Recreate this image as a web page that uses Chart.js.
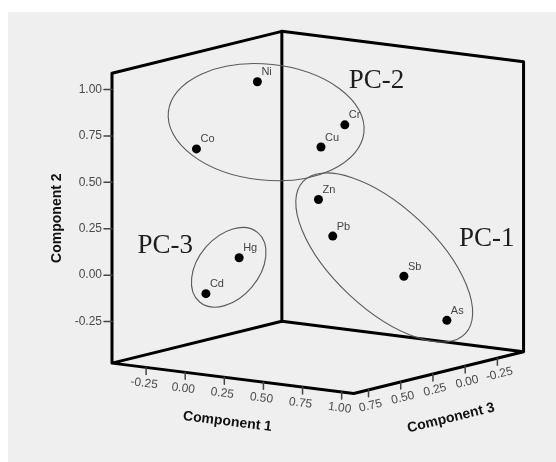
<!DOCTYPE html>
<html>
<head>
<meta charset="utf-8">
<script src="https://cdn.jsdelivr.net/npm/chart.js@4.4.1/dist/chart.umd.min.js"></script>
<style>
  html, body { margin: 0; padding: 0; background: #fff; }
  #wrap { width: 556px; height: 462px; position: relative; }
</style>
</head>
<body>
<div id="wrap"><canvas id="pcaChart"></canvas></div>
<script>
// loadings
const elements = ['Ni', 'Co', 'Cr', 'Cu', 'Zn', 'Pb', 'Sb', 'As', 'Hg', 'Cd'];
const comp1 = [-0.21, -0.27, 0.39, 0.32, 0.51, 0.56, 0.85, 0.96, 0.25, 0.12];
const comp2 = [0.93, 0.63, 0.77, 0.66, 0.44, 0.24, 0.02, -0.24, 0.15, -0.04];
const comp3 = [0.05, 0.45, 0.10, 0.20, 0.45, 0.40, 0.20, 0.00, 0.75, 0.85];

const comp1Ticks = [-0.25, 0, 0.25, 0.5, 0.75, 1.0];
const comp2Ticks = [-0.25, 0, 0.25, 0.5, 0.75, 1.0];
const comp3Ticks = [-0.25, 0, 0.25, 0.5, 0.75];
const comp1Range = [-0.468, 1.077];
const comp2Range = [-0.474, 1.088];
const comp3Range = [-0.453, 0.865];

// hand drawn groupings, in projected chart units
const groups = [
    { label: 'PC-2', cx: -0.164, cy: 0.726, rx: 0.528, ry: 0.312, rot: 6, tx: 0.428, ty: 0.948 },
    { label: 'PC-1', cx: 0.470, cy: -0.003, rx: 0.597, ry: 0.275, rot: 43, tx: 1.020, ty: 0.096 },
    { label: 'PC-3', cx: -0.365, cy: -0.056, rx: 0.243, ry: 0.164, rot: -50, tx: -0.706, ty: 0.060 }
];

// oblique view: component 1 goes right/down, component 3 goes left/down
function project(c1, c2, c3) {
    return { x: 0.840 * c1 - 0.692 * c3, y: c2 - 0.106 * c1 - 0.171 * c3 };
}

const fmt = v => v.toFixed(2);

const box3d = {
    id: 'box3d',
    beforeDraw(chart) {
        const ctx = chart.ctx;
        ctx.save();
        ctx.fillStyle = '#efefef';
        ctx.fillRect(8, 12, chart.width - 8, chart.height - 12);
        ctx.restore();
    },
    beforeDatasetsDraw(chart) {
        const ctx = chart.ctx;
        const sx = chart.scales.x, sy = chart.scales.y;
        const px = (c1, c2, c3) => {
            const p = project(c1, c2, c3);
            return { x: sx.getPixelForValue(p.x), y: sy.getPixelForValue(p.y) };
        };
        const [a1, b1] = comp1Range, [a2, b2] = comp2Range, [a3, b3] = comp3Range;
        const leftBot = px(a1, a2, b3), leftTop = px(a1, b2, b3);
        const backBot = px(a1, a2, a3), backTop = px(a1, b2, a3);
        const rightBot = px(b1, a2, a3), rightTop = px(b1, b2, a3);
        const front = px(b1, a2, b3);

        ctx.save();
        ctx.strokeStyle = '#000';
        ctx.lineWidth = 3;
        ctx.lineJoin = 'round';
        ctx.lineCap = 'round';
        const path = pts => {
            ctx.beginPath();
            ctx.moveTo(pts[0].x, pts[0].y);
            pts.slice(1).forEach(p => ctx.lineTo(p.x, p.y));
            ctx.stroke();
        };
        path([leftBot, leftTop, backTop, rightTop, rightBot, front, leftBot, backBot, rightBot]);
        path([backBot, backTop]);

        // ticks
        ctx.strokeStyle = '#444';
        ctx.lineWidth = 1.5;
        ctx.fillStyle = '#4a4a4a';
        ctx.font = '12px "Liberation Sans", Arial, sans-serif';
        ctx.textBaseline = 'middle';

        comp2Ticks.forEach(t => {
            const p = px(a1, t, b3);
            ctx.beginPath();
            ctx.moveTo(p.x, p.y);
            ctx.lineTo(p.x - 8, p.y);
            ctx.stroke();
            ctx.textAlign = 'right';
            ctx.fillText(fmt(t), p.x - 10, p.y);
        });

        const ang1 = Math.atan2(front.y - leftBot.y, front.x - leftBot.x);
        comp1Ticks.forEach(t => {
            const p = px(t, a2, b3);
            ctx.beginPath();
            ctx.moveTo(p.x, p.y);
            ctx.lineTo(p.x, p.y + 7);
            ctx.stroke();
            ctx.save();
            ctx.translate(p.x - 2, p.y + 16);
            ctx.rotate(ang1);
            ctx.textAlign = 'center';
            ctx.fillText(fmt(t), 0, 0);
            ctx.restore();
        });

        const ang3 = Math.atan2(rightBot.y - front.y, rightBot.x - front.x);
        comp3Ticks.forEach(t => {
            const p = px(b1, a2, t);
            ctx.beginPath();
            ctx.moveTo(p.x, p.y);
            ctx.lineTo(p.x, p.y + 7);
            ctx.stroke();
            ctx.save();
            ctx.translate(p.x + 2, p.y + 16);
            ctx.rotate(ang3);
            ctx.textAlign = 'center';
            ctx.fillText(fmt(t), 0, 0);
            ctx.restore();
        });

        // axis titles
        ctx.fillStyle = '#111';
        ctx.font = 'bold 14px "Liberation Sans", Arial, sans-serif';
        ctx.textAlign = 'center';
        ctx.save();
        ctx.translate(leftBot.x - 55, (leftBot.y + leftTop.y) / 2);
        ctx.rotate(-Math.PI / 2);
        ctx.fillText('Component 2', 0, 0);
        ctx.restore();

        let p = px(0.27, a2, b3);
        ctx.save();
        ctx.translate(p.x, p.y + 44);
        ctx.rotate(ang1);
        ctx.fillText('Component 1', 0, 0);
        ctx.restore();

        p = px(b1, a2, 0.126);
        ctx.save();
        ctx.translate(p.x + 2, p.y + 48);
        ctx.rotate(ang3);
        ctx.fillText('Component 3', 0, 0);
        ctx.restore();

        // group ellipses
        const unitX = sx.getPixelForValue(1) - sx.getPixelForValue(0);
        const unitY = sy.getPixelForValue(0) - sy.getPixelForValue(1);
        ctx.strokeStyle = '#5a5a5a';
        ctx.lineWidth = 1.1;
        groups.forEach(g => {
            ctx.beginPath();
            ctx.ellipse(sx.getPixelForValue(g.cx), sy.getPixelForValue(g.cy),
                g.rx * unitX, g.ry * unitY, g.rot * Math.PI / 180, 0, Math.PI * 2);
            ctx.stroke();
        });
        ctx.fillStyle = '#1e1e1e';
        ctx.font = '27px "Liberation Serif", "Times New Roman", serif';
        ctx.textAlign = 'center';
        ctx.textBaseline = 'middle';
        groups.forEach(g => {
            ctx.fillText(g.label, sx.getPixelForValue(g.tx), sy.getPixelForValue(g.ty));
        });
        ctx.restore();
    },
    afterDatasetsDraw(chart) {
        const ctx = chart.ctx;
        const meta = chart.getDatasetMeta(0);
        ctx.save();
        ctx.fillStyle = '#444';
        ctx.font = '11px "Liberation Sans", Arial, sans-serif';
        ctx.textAlign = 'left';
        ctx.textBaseline = 'bottom';
        meta.data.forEach((pt, i) => {
            ctx.fillText(elements[i], pt.x + 4, pt.y - 4);
        });
        ctx.restore();
    }
};

const points = elements.map((el, i) => project(comp1[i], comp2[i], comp3[i]));

new Chart(document.getElementById('pcaChart'), {
    type: 'scatter',
    data: {
        datasets: [{
            label: 'Loadings',
            data: points,
            pointRadius: 4.5,
            pointHoverRadius: 4.5,
            backgroundColor: '#000',
            borderWidth: 0
        }]
    },
    options: {
        responsive: true,
        maintainAspectRatio: false,
        animation: false,
        layout: { padding: 0 },
        plugins: { legend: { display: false }, tooltip: { enabled: false } },
        scales: {
            x: { type: 'linear', display: false, min: -1.5689, max: 1.3682 },
            y: { type: 'linear', display: false, min: -1.0808, max: 1.3598 }
        }
    },
    plugins: [box3d]
});
</script>
</body>
</html>
